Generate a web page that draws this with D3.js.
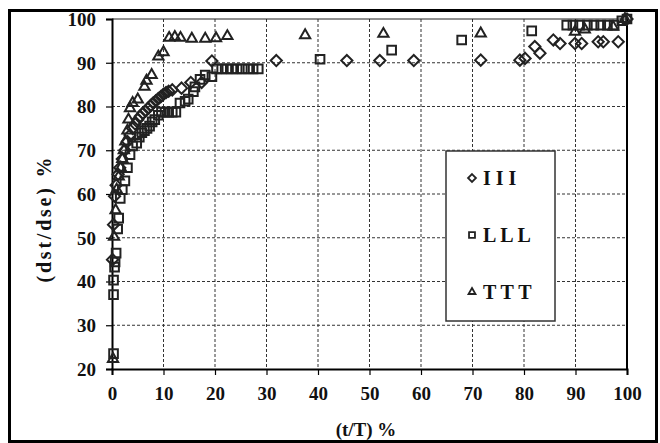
<!DOCTYPE html>
<html>
<head>
<meta charset="utf-8">
<script src="https://cdn.jsdelivr.net/npm/d3@7/dist/d3.min.js"></script>
<style>
  body { margin: 0; background: #fff; }
  svg text { font-family: "Liberation Serif", "DejaVu Serif", serif; font-weight: bold; fill: #111; }
</style>
</head>
<body>
<svg id="chart" width="660" height="443"></svg>
<script>
// series I (diamonds): [t/T %, dst/dse %]
var seriesI = [
  [0.1,45],[0.3,53],[0.5,59.5],[0.8,62],[1.2,64.5],[1.5,66],[2,68],[2.5,70],[3,72],[3.5,73.5],
  [4,75],[4.5,76],[5,77],[5.5,77.8],[6,78.5],[6.5,79],[7,79.6],[7.5,80.2],[8,80.8],[8.5,81.3],
  [9,81.8],[9.5,82.3],[10,82.8],[10.5,83.2],[11,83.5],[11.7,83.8],[13.5,84.2],[15.3,85.5],
  [17.4,85.5],[19.4,90.4],[31.9,90.5],[45.6,90.5],[52,90.5],[58.6,90.5],[71.6,90.6],[79.2,90.6],
  [80.2,91],[82.1,93.7],[83.1,92.2],[85.7,95.2],[87,94.4],[89.9,94.4],[91.2,94.4],[94.4,94.8],
  [95.4,94.8],[98.3,94.8],[100,100]
];
// series L (squares)
var seriesL = [
  [0.3,23.5],[0.3,37],[0.3,40.3],[0.5,43.3],[0.6,44.5],[0.8,46.5],[1.1,52],[1.3,54.5],[1.6,59],
  [2,61],[2.5,63],[3,66],[3.5,69],[4,71],[4.8,71.6],[5.3,73],[5.8,74],[6.3,74.5],[6.8,75],
  [7.3,75.5],[7.8,76.5],[8.3,77],[9,78],[9.6,78.7],[10.3,78.7],[11,78.7],[11.7,78.7],[12.4,78.7],
  [13.2,80.8],[14.2,81.2],[14.8,81.7],[15.8,83.4],[16.1,84.5],[17.1,86.2],[18.1,87.2],[19.4,86.8],
  [20.3,88.6],[21.3,88.6],[22.3,88.6],[23.3,88.6],[24.3,88.6],[25.3,88.6],[26.4,88.6],[27.4,88.6],
  [28.4,88.6],[40.4,90.8],[54.3,92.9],[67.9,95.2],[81.5,97.3],[88.3,98.6],[89.5,98.6],[90.8,98.6],
  [92.3,98.6],[93.6,98.6],[94.9,98.6],[96.2,98.6],[97.5,98.6],[99,99.6],[100,100]
];
// series T (triangles)
var seriesT = [
  [0.2,22.3],[0.4,50.2],[0.7,56.3],[0.9,61],[1.3,64],[1.7,66],[2,68],[2.3,70],[2.6,72],[3,74.5],
  [3.2,77],[3.5,79.6],[4,80.8],[5,81.6],[6.3,84.5],[6.7,85.9],[7.7,87.2],[9,91.4],[10,92.4],
  [11.1,95.7],[12.2,95.9],[13.3,95.7],[15.5,95.5],[18.1,95.5],[20.2,95.6],[22.4,96.1],[37.5,96.3],
  [52.7,96.6],[71.6,96.7],[89.9,97.1],[91.8,97.6],[97.3,98.2],[99.6,100]
];
var xTicks = [0,10,20,30,40,50,60,70,80,90,100];
var yTicks = [20,30,40,50,60,70,80,90,100];
var legendLabels = ["I I I", "L L L", "T T T"];

var svg = d3.select("#chart"),
    margin = {top: 19, right: 33, bottom: 74, left: 112},
    width = +svg.attr("width") - margin.left - margin.right,
    height = +svg.attr("height") - margin.top - margin.bottom;

// outer frame
svg.append("rect")
    .attr("x", 9.5).attr("y", 10.5).attr("width", 647).attr("height", 431)
    .attr("fill", "none").attr("stroke", "#000").attr("stroke-width", 3);

var g = svg.append("g").attr("transform", "translate(" + margin.left + "," + margin.top + ")");

var x = d3.scaleLinear().domain([0, 100]).range([0, width]);
var y = d3.scaleLinear().domain([20, 100]).range([height, 0]);

// grid
g.append("g").selectAll("line").data(yTicks.slice(1, -1)).enter().append("line")
    .attr("x1", 0).attr("x2", width)
    .attr("y1", function(d) { return y(d); }).attr("y2", function(d) { return y(d); })
    .attr("stroke", "#333").attr("stroke-width", 1).attr("stroke-dasharray", "3,2");
g.append("g").selectAll("line").data(xTicks.slice(1, -1)).enter().append("line")
    .attr("y1", 0).attr("y2", height)
    .attr("x1", function(d) { return x(d); }).attr("x2", function(d) { return x(d); })
    .attr("stroke", "#333").attr("stroke-width", 1).attr("stroke-dasharray", "3,2");

// plot frame
g.append("line").attr("x1", 0).attr("x2", width).attr("y1", 0).attr("y2", 0)
    .attr("stroke", "#222").attr("stroke-width", 1.2);
g.append("line").attr("x1", width).attr("x2", width).attr("y1", 0).attr("y2", height)
    .attr("stroke", "#000").attr("stroke-width", 2);

// axes
var xAxis = g.append("g")
    .attr("transform", "translate(0," + height + ")")
    .call(d3.axisBottom(x).tickValues(xTicks).tickSize(6).tickPadding(12));
var yAxis = g.append("g")
    .call(d3.axisLeft(y).tickValues(yTicks).tickSize(6).tickPadding(10));
[xAxis, yAxis].forEach(function(a) {
    a.select(".domain").attr("stroke", "#000").attr("stroke-width", 2);
    a.selectAll(".tick line").attr("stroke", "#000").attr("stroke-width", 1.2);
    a.selectAll(".tick text").style("font-size", "19px").attr("fill", "#111");
});
yAxis.selectAll(".tick text").attr("dy", "0.34em");

// markers
var sym = {
    I: d3.symbol().type(d3.symbolDiamond2).size(80),
    L: d3.symbol().type(d3.symbolSquare2).size(95),
    T: d3.symbol().type(d3.symbolTriangle2).size(75)
};
function drawSeries(data, s) {
    g.append("g").selectAll("path").data(data).enter().append("path")
        .attr("d", s)
        .attr("transform", function(d) { return "translate(" + x(d[0]) + "," + y(d[1]) + ")"; })
        .attr("fill", "none").attr("stroke", "#222").attr("stroke-width", 2);
}
drawSeries(seriesL, sym.L);
drawSeries(seriesI, sym.I);
drawSeries(seriesT, sym.T);

// legend
var lg = svg.append("g");
lg.append("rect").attr("x", 446).attr("y", 151).attr("width", 109).attr("height", 170)
    .attr("fill", "#fff").attr("stroke", "#333").attr("stroke-width", 1.5);
var legSym = [
    d3.symbol().type(d3.symbolDiamond2).size(40),
    d3.symbol().type(d3.symbolSquare2).size(45),
    d3.symbol().type(d3.symbolTriangle2).size(35)
];
legendLabels.forEach(function(t, i) {
    var cy = 178 + i * 57;
    lg.append("path").attr("d", legSym[i])
        .attr("transform", "translate(472," + cy + ")")
        .attr("fill", "none").attr("stroke", "#222").attr("stroke-width", 1.8);
    lg.append("text").attr("x", 483).attr("y", cy + 6.5)
        .style("font-size", "20px").text(t);
});

// axis titles
svg.append("text").attr("x", 366).attr("y", 436).attr("text-anchor", "middle")
    .style("font-size", "19px").text("(t/T) %");
svg.append("text").attr("transform", "translate(51,220) rotate(-90)")
    .attr("text-anchor", "middle").style("font-size", "20px")
    .attr("textLength", 125).attr("lengthAdjust", "spacing")
    .text("(dst/dse) %");
</script>
</body>
</html>
